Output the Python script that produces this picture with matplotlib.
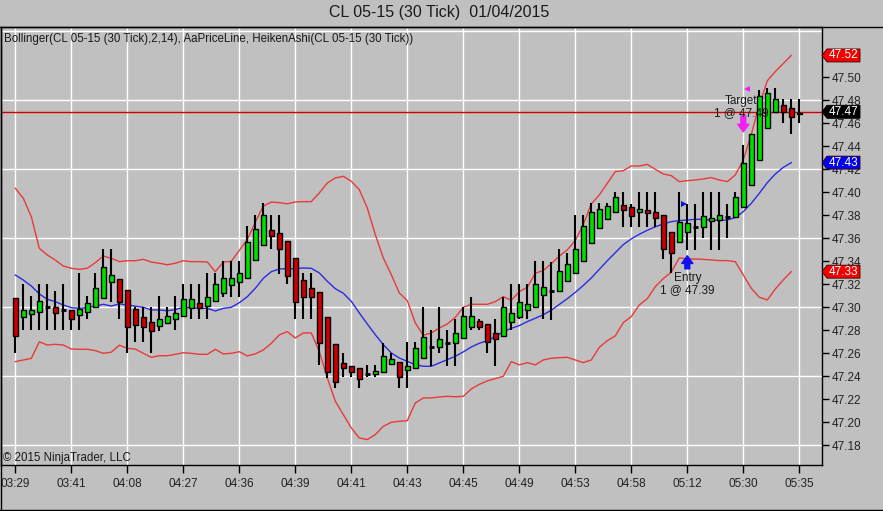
import numpy as np
import matplotlib
matplotlib.use("Agg")
import matplotlib.pyplot as plt
from matplotlib.patches import Rectangle, Polygon
from matplotlib.transforms import blended_transform_factory

plt.rcParams['font.family'] = ['Liberation Sans', 'DejaVu Sans']

# ---------------- data ----------------
title = "CL 05-15 (30 Tick)  01/04/2015"
legend_text = "Bollinger(CL 05-15 (30 Tick),2,14), AaPriceLine, HeikenAshi(CL 05-15 (30 Tick))"
copyright_text = "\u00a9 2015 NinjaTrader, LLC"

time_labels = ["03:29", "03:41", "04:08", "04:27", "04:36", "04:39", "04:41", "04:43",
               "04:45", "04:49", "04:53", "04:58", "05:12", "05:30", "05:35"]

ha_open = [47.308, 47.2916, 47.2942, 47.296, 47.3005, 47.300, 47.2977, 47.2973, 47.2935, 47.2961,
           47.300, 47.3085, 47.3217, 47.3248, 47.3148, 47.2989, 47.2916, 47.2871, 47.2834, 47.2865,
           47.2895, 47.2921, 47.2996, 47.3034, 47.3013, 47.3052, 47.3127, 47.319, 47.3221, 47.3258,
           47.3415, 47.3546, 47.3675, 47.3649, 47.3577, 47.3426, 47.3238, 47.3165, 47.313, 47.2912,
           47.2678, 47.2513, 47.2493, 47.247, 47.2422, 47.2421, 47.2434, 47.2505, 47.2527, 47.2459,
           47.2476, 47.256, 47.2652, 47.2654, 47.2688, 47.2692, 47.2733, 47.2829, 47.2877, 47.2855,
           47.2776, 47.2749, 47.2875, 47.2912, 47.298, 47.3005, 47.3103, 47.3139, 47.3142, 47.323,
           47.3302, 47.3403, 47.3555, 47.369, 47.3771, 47.3826, 47.3891, 47.3869, 47.3833, 47.3843,
           47.3833, 47.3803, 47.3654, 47.3565, 47.3655, 47.3693, 47.3699, 47.3748, 47.3761, 47.3782,
           47.3784, 47.387, 47.4061, 47.4283, 47.456, 47.470, 47.4755, 47.473, 47.4691]

ha_close = [47.275, 47.298, 47.298, 47.3058, 47.300, 47.295, 47.297, 47.2896, 47.2986, 47.304,
            47.317, 47.3348, 47.3278, 47.3049, 47.283, 47.2843, 47.2826, 47.2797, 47.2896, 47.2924,
            47.2948, 47.3072, 47.3072, 47.2991, 47.3092, 47.3203, 47.3252, 47.3252, 47.3296, 47.3571,
            47.3678, 47.3803, 47.3623, 47.3504, 47.3275, 47.3049, 47.3093, 47.3093, 47.2693, 47.2441,
            47.2348, 47.247, 47.2441, 47.2374, 47.2420, 47.2446, 47.2577, 47.2548, 47.2391, 47.2493,
            47.2643, 47.2745, 47.2655, 47.2722, 47.2695, 47.2774, 47.2925, 47.2925, 47.2832, 47.2696,
            47.2722, 47.300, 47.2948, 47.3049, 47.3029, 47.320, 47.3174, 47.3145, 47.3319, 47.3374,
            47.3504, 47.3707, 47.3826, 47.3852, 47.3881, 47.3957, 47.3846, 47.3797, 47.3852, 47.3823,
            47.3774, 47.3504, 47.3475, 47.3745, 47.373, 47.3700, 47.3797, 47.3774, 47.3803, 47.3785,
            47.3957, 47.4252, 47.4504, 47.4837, 47.4861, 47.4809, 47.4701, 47.4652, 47.4678]

ha_high = [47.308, 47.3206, 47.310, 47.3206, 47.3206, 47.314, 47.3206, 47.2973, 47.330, 47.310,
           47.330, 47.3507, 47.3507, 47.3248, 47.3148, 47.300, 47.300, 47.300, 47.3098, 47.3005,
           47.310, 47.3203, 47.3203, 47.3203, 47.330, 47.330, 47.3403, 47.3403, 47.3403, 47.3707,
           47.3803, 47.3904, 47.3803, 47.3803, 47.3577, 47.3426, 47.3296, 47.3296, 47.313, 47.2912,
           47.2678, 47.260, 47.2493, 47.247, 47.2499, 47.2499, 47.2693, 47.260, 47.2527, 47.2696,
           47.2696, 47.3006, 47.2803, 47.3006, 47.2803, 47.2896, 47.300, 47.3093, 47.2896, 47.2855,
           47.2896, 47.3093, 47.3203, 47.3203, 47.3203, 47.3403, 47.3403, 47.3397, 47.3504, 47.347,
           47.3803, 47.3803, 47.3904, 47.3904, 47.3904, 47.400, 47.400, 47.390, 47.400, 47.400,
           47.400, 47.3803, 47.3654, 47.400, 47.390, 47.390, 47.400, 47.400, 47.400, 47.390,
           47.400, 47.4412, 47.4504, 47.4887, 47.4904, 47.4904, 47.4809, 47.4809, 47.4809]

ha_low = [47.260, 47.280, 47.280, 47.280, 47.280, 47.280, 47.280, 47.280, 47.280, 47.290,
          47.300, 47.3085, 47.305, 47.2896, 47.260, 47.2696, 47.2696, 47.260, 47.2797, 47.2865,
          47.280, 47.2921, 47.2896, 47.2896, 47.2896, 47.3052, 47.3092, 47.3092, 47.3092, 47.3258,
          47.3415, 47.3546, 47.3503, 47.329, 47.3203, 47.2896, 47.2896, 47.2896, 47.2499, 47.2386,
          47.2296, 47.2397, 47.2391, 47.2296, 47.2391, 47.2391, 47.2434, 47.2505, 47.2296, 47.2296,
          47.2476, 47.256, 47.2493, 47.260, 47.2493, 47.2493, 47.2733, 47.2803, 47.2803, 47.260,
          47.2493, 47.2749, 47.2803, 47.2896, 47.2896, 47.3005, 47.2896, 47.289, 47.3142, 47.323,
          47.3302, 47.3403, 47.3555, 47.369, 47.3771, 47.3826, 47.3701, 47.370, 47.370, 47.370,
          47.370, 47.3417, 47.3296, 47.3565, 47.350, 47.350, 47.360, 47.350, 47.350, 47.360,
          47.3784, 47.387, 47.4061, 47.4283, 47.456, 47.470, 47.4606, 47.4507, 47.4606]

bb_upper = [47.4035, 47.3948, 47.3788, 47.3513, 47.3455, 47.3411, 47.3359, 47.3339, 47.333, 47.334,
            47.3388, 47.3446, 47.3426, 47.3397, 47.3405, 47.3405, 47.3417, 47.3394, 47.3383, 47.337,
            47.3383, 47.3405, 47.3397, 47.3397, 47.3394, 47.331, 47.3393, 47.340, 47.3495, 47.359,
            47.374, 47.388, 47.3915, 47.391, 47.390, 47.3916, 47.3919, 47.3919, 47.3994, 47.4081,
            47.4125, 47.4139, 47.4096, 47.4023, 47.3864, 47.3632, 47.3429, 47.3284, 47.3125, 47.3058,
            47.2864, 47.2757, 47.2777, 47.282, 47.2855, 47.2913, 47.300, 47.3026, 47.3026, 47.3026,
            47.3049, 47.3093, 47.3060, 47.3136, 47.3174, 47.3296, 47.332, 47.338, 47.3445, 47.350,
            47.358, 47.372, 47.3899, 47.3977, 47.4078, 47.418, 47.4188, 47.4229, 47.4229, 47.4243,
            47.420, 47.4159, 47.4145, 47.4093, 47.4101, 47.4107, 47.4116, 47.4128, 47.4107, 47.4093,
            47.4151, 47.4281, 47.4504, 47.476, 47.497, 47.505, 47.512, 47.519]

bb_middle = [47.3281, 47.3237, 47.3185, 47.3116, 47.307, 47.3049, 47.302, 47.2997, 47.2991, 47.2997,
             47.3011, 47.3026, 47.3011, 47.303, 47.302, 47.301, 47.300, 47.2977, 47.2977, 47.297,
             47.298, 47.300, 47.2997, 47.2991, 47.2991, 47.2968, 47.2991, 47.300, 47.304, 47.3092,
             47.3165, 47.3252, 47.331, 47.3333, 47.3336, 47.3336, 47.3342, 47.3339, 47.3299, 47.3226,
             47.3162, 47.3122, 47.3052, 47.2951, 47.2855, 47.2762, 47.2675, 47.2603, 47.2559, 47.253,
             47.2501, 47.2487, 47.2487, 47.2516, 47.2545, 47.2574, 47.2612, 47.2655, 47.2687, 47.271,
             47.2745, 47.2788, 47.2817, 47.2841, 47.2875, 47.2905, 47.2935, 47.2975, 47.3025, 47.3075,
             47.313, 47.319, 47.3255, 47.333, 47.3405, 47.3475, 47.3545, 47.3595, 47.3635, 47.367,
             47.370, 47.3725, 47.3745, 47.3754, 47.3759, 47.3765, 47.3765, 47.3759, 47.3754, 47.3759,
             47.378, 47.3832, 47.3904, 47.3991, 47.4084, 47.4159, 47.4217, 47.4258]

bb_lower = [47.2527, 47.2542, 47.2556, 47.27, 47.2672, 47.2678, 47.2672, 47.2637, 47.2635, 47.2635,
            47.2623, 47.26, 47.261, 47.267, 47.2643, 47.2637, 47.26, 47.2565, 47.2579, 47.2579,
            47.2591, 47.2605, 47.26, 47.2591, 47.2591, 47.2635, 47.2595, 47.26, 47.2614, 47.2577,
            47.2595, 47.2629, 47.2687, 47.276, 47.2788, 47.2733, 47.2777, 47.2777, 47.2617, 47.2386,
            47.2183, 47.2067, 47.1951, 47.1864, 47.185, 47.1893, 47.1965, 47.200, 47.2009, 47.2014,
            47.2168, 47.2212, 47.2212, 47.222, 47.2226, 47.2222, 47.2226, 47.229, 47.233, 47.236,
            47.238, 47.240, 47.2528, 47.2499, 47.2519, 47.2499, 47.2542, 47.2557, 47.2562, 47.2565,
            47.2542, 47.2519, 47.2542, 47.2652, 47.271, 47.2751, 47.2867, 47.2919, 47.302, 47.3075,
            47.318, 47.325, 47.3305, 47.343, 47.342, 47.342, 47.3417, 47.3412, 47.3406, 47.3406,
            47.3397, 47.3281, 47.3165, 47.3087, 47.3064, 47.3159, 47.3238, 47.331]

last_price = 47.47
entry_bar, entry_price, entry_label = 84, 47.39, "Entry"
target_bar, target_price, target_label = 91, 47.49, "Target"

# ---------------- styling ----------------
BG = '#C0C0C0'
GREEN = '#00E000'
RED = '#CC0000'
BAND_RED = '#E83A3A'
MID_BLUE = '#2B2BE0'
TXT = '#1A1A1A'

W, H = 883, 511
fig = plt.figure(figsize=(W / 100, H / 100), dpi=100, facecolor=BG)
ax = fig.add_axes([1 / W, 46 / H, 821 / W, 438 / H])
ax.set_facecolor(BG)

px_per_bar = 8.0
first_px = 15.3
ax.set_xlim((1 - first_px) / px_per_bar, (822 - first_px) / px_per_bar)
ppd = 1150.0  # pixels per price unit
ax.set_ylim(47.30 - (465 - 307.3) / ppd, 47.30 + (307.3 - 27) / ppd)

n = len(ha_open)
x = np.arange(n)

# grid
for gx in range(0, n, 7):
    ax.axvline(gx, color='white', lw=1.0, zorder=0.5)
for gy in np.arange(47.18, 47.55, 0.06):
    ax.axhline(gy, color='white', lw=1.0, zorder=0.5)

# bands
xb = np.arange(len(bb_upper))
ax.plot(xb, bb_upper, color=BAND_RED, lw=1.0, zorder=2)
ax.plot(xb, bb_lower, color=BAND_RED, lw=1.0, zorder=2)
ax.plot(xb, bb_middle, color=MID_BLUE, lw=1.0, zorder=2)

# price line
ax.axhline(last_price, color='#D00000', lw=1.0, zorder=2.2)

# Heiken Ashi candles
bw = 0.56
for i in range(n):
    o, h, l, c = ha_open[i], ha_high[i], ha_low[i], ha_close[i]
    ax.vlines(i, l, h, color='black', lw=1.5, zorder=3)
    if abs(c - o) < 0.001:
        ax.hlines((o + c) / 2, i - bw / 2, i + bw / 2, color='black', lw=2.0, zorder=4)
    else:
        fc = GREEN if c > o else RED
        ax.add_patch(Rectangle((i - bw / 2, min(o, c)), bw, abs(c - o),
                               facecolor=fc, edgecolor='black', lw=1.0, zorder=4))

# trade markers
def px2d(p):
    return p / ppd

ax.plot(entry_bar - 0.45, entry_price, marker='>', color='#1010E0', ms=5, zorder=6, mew=0)
ax.annotate('', xy=(entry_bar, ha_low[entry_bar] - px2d(6)),
            xytext=(entry_bar, ha_low[entry_bar] - px2d(19)),
            arrowprops=dict(arrowstyle='simple,head_width=0.8,head_length=0.55,tail_width=0.35',
                            fc='#1010F0', ec='#1010F0', mutation_scale=10, shrinkA=0, shrinkB=0),
            zorder=6)
ax.annotate(entry_label, xy=(entry_bar, entry_price), xytext=(0, -74 * 0.72),
            textcoords='offset points', ha='center', va='center', fontsize=8.5, color=TXT, zorder=7)
ax.annotate(f"1 @ {entry_price:.2f}", xy=(entry_bar, entry_price), xytext=(0, -86 * 0.72),
            textcoords='offset points', ha='center', va='center', fontsize=8.5, color=TXT, zorder=7)

ax.plot(target_bar + 0.4, target_price, marker='<', color='#F020F0', ms=5, zorder=6, mew=0)
ax.annotate('', xy=(target_bar, ha_high[target_bar] + px2d(13)),
            xytext=(target_bar, ha_high[target_bar] + px2d(29)),
            arrowprops=dict(arrowstyle='simple,head_width=0.8,head_length=0.55,tail_width=0.35',
                            fc='#F020F0', ec='#F020F0', mutation_scale=10, shrinkA=0, shrinkB=0),
            zorder=6)
ax.annotate(target_label, xy=(target_bar, target_price), xytext=(-2 * 0.72, -12.5 * 0.72),
            textcoords='offset points', ha='center', va='center', fontsize=8.5, color=TXT, zorder=7)
ax.annotate(f"1 @ {target_price:.2f}", xy=(target_bar, target_price), xytext=(-2 * 0.72, -24.5 * 0.72),
            textcoords='offset points', ha='center', va='center', fontsize=8.5, color=TXT, zorder=7)

# axes styling
for s in ax.spines.values():
    s.set_color('black')
    s.set_linewidth(1.0)
ax.yaxis.tick_right()
yt = np.round(np.arange(47.18, 47.501, 0.02), 2)
ax.set_yticks(yt)
ax.set_yticklabels([f"{v:.2f}" for v in yt])
ax.tick_params(axis='y', direction='out', length=5, width=1, pad=2, labelsize=8.5,
               colors='black', labelcolor='#222222')
ax.set_xticks(np.arange(0, n, 7))
ax.set_xticklabels(time_labels)
ax.tick_params(axis='x', direction='out', length=6, width=1, pad=3, labelsize=8.5,
               colors='black', labelcolor='#222222')

# right axis tags
trans = blended_transform_factory(ax.transAxes, ax.transData)
tw = 38 / 821
tip = 5 / 821
hh = 6.5 / ppd

def tag(v, color, label):
    pts = [(1.0, v), (1 + tip, v + hh), (1 + tw, v + hh), (1 + tw, v - hh), (1 + tip, v - hh)]
    ax.add_patch(Polygon(pts, closed=True, transform=trans, clip_on=False,
                         facecolor=color, edgecolor='#400000' if color != 'black' else 'black',
                         lw=0.6, zorder=20))
    ax.text(1 + tip + (tw - tip) / 2, v, label, transform=trans, clip_on=False,
            ha='center', va='center', fontsize=8.5, color='white', zorder=21)

tag(bb_upper[-1], '#F00000', f"{bb_upper[-1]:.2f}")
tag(last_price, 'black', f"{last_price:.2f}")
tag(bb_middle[-1], '#0000F0', f"{bb_middle[-1]:.2f}")
tag(bb_lower[-1], '#F00000', f"{bb_lower[-1]:.2f}")

# texts
fig.text(0.497, 1 - 13 / H, title, ha='center', va='center', fontsize=11.5, color=TXT)
fig.text(4 / W, 1 - 39 / H, legend_text, ha='left', va='center', fontsize=8.3, color=TXT)
fig.text(3 / W, 1 - 458 / H, copyright_text, ha='left', va='center', fontsize=8.3, color=TXT)

# outer frame lines
fig.add_artist(plt.Line2D([0, 1], [1 - 27 / H, 1 - 27 / H], transform=fig.transFigure,
                          color='black', lw=1.0))
fig.add_artist(plt.Line2D([0.5 / W, 0.5 / W], [1 / H, 1 - 27 / H], transform=fig.transFigure,
                          color='black', lw=1.0))
fig.add_artist(plt.Line2D([0, 1], [1.5 / H, 1.5 / H], transform=fig.transFigure,
                          color='black', lw=1.0))

fig.savefig('out.png', dpi=100, facecolor=BG)
